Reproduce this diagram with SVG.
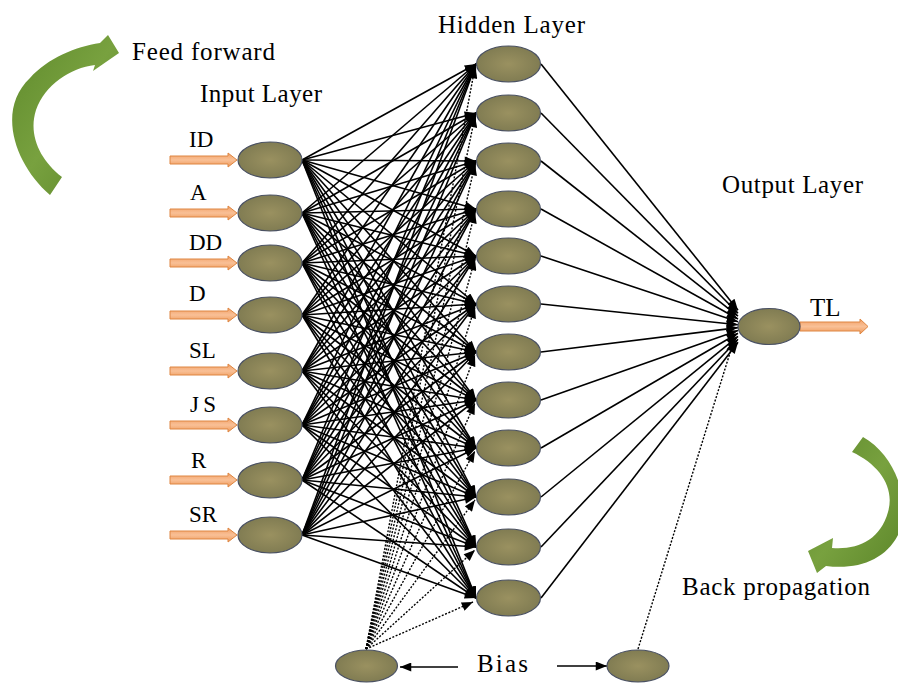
<svg xmlns="http://www.w3.org/2000/svg" width="898" height="684" viewBox="0 0 898 684">
<style>
.t{font-family:"Liberation Serif","Times New Roman",serif;fill:#000;}
.lbl{font-size:23px;}
.ttl{font-size:25px;}
.node{fill:url(#olive);stroke:#4a5163;stroke-width:1.2;}
.w line{stroke:#000;stroke-width:1.6;marker-end:url(#ah);}
.d line{stroke:#000;stroke-width:1.4;stroke-dasharray:2 1.6;marker-end:url(#ah);}
.oa{fill:url(#orange);stroke:#de8642;stroke-width:1;}
.green{fill:url(#grn);}
</style>
<defs>
<radialGradient id="olive" cx="50%" cy="50%" r="55%">
<stop offset="0" stop-color="#9a9160"/>
<stop offset="1" stop-color="#7e7a51"/>
</radialGradient>
<linearGradient id="orange" x1="0" y1="0" x2="0" y2="1">
<stop offset="0" stop-color="#f2a066"/>
<stop offset="0.5" stop-color="#f9c096"/>
<stop offset="1" stop-color="#ee9858"/>
</linearGradient>
<linearGradient id="grn" x1="0" y1="0" x2="1" y2="1">
<stop offset="0" stop-color="#5f8a2c"/>
<stop offset="0.5" stop-color="#78a13f"/>
<stop offset="1" stop-color="#5b8529"/>
</linearGradient>
<marker id="ah" viewBox="0 0 10 8" refX="10" refY="4" markerWidth="12" markerHeight="9" markerUnits="userSpaceOnUse" orient="auto">
<path d="M0,0 L10,4 L0,8 z" fill="#000"/>
</marker>
</defs>
<rect width="898" height="684" fill="#fff"/>

<g id="connectors">
<g class="w">
<line x1="302" y1="160" x2="476" y2="64"/><line x1="302" y1="160" x2="476" y2="113"/><line x1="302" y1="160" x2="476" y2="161"/><line x1="302" y1="160" x2="476" y2="209"/><line x1="302" y1="160" x2="476" y2="256"/><line x1="302" y1="160" x2="476" y2="304"/><line x1="302" y1="160" x2="476" y2="352"/><line x1="302" y1="160" x2="476" y2="400"/><line x1="302" y1="160" x2="476" y2="448"/><line x1="302" y1="160" x2="476" y2="497"/><line x1="302" y1="160" x2="476" y2="547"/><line x1="302" y1="160" x2="476" y2="598"/>
<line x1="302" y1="213" x2="476" y2="64"/><line x1="302" y1="213" x2="476" y2="113"/><line x1="302" y1="213" x2="476" y2="161"/><line x1="302" y1="213" x2="476" y2="209"/><line x1="302" y1="213" x2="476" y2="256"/><line x1="302" y1="213" x2="476" y2="304"/><line x1="302" y1="213" x2="476" y2="352"/><line x1="302" y1="213" x2="476" y2="400"/><line x1="302" y1="213" x2="476" y2="448"/><line x1="302" y1="213" x2="476" y2="497"/><line x1="302" y1="213" x2="476" y2="547"/><line x1="302" y1="213" x2="476" y2="598"/>
<line x1="302" y1="263" x2="476" y2="64"/><line x1="302" y1="263" x2="476" y2="113"/><line x1="302" y1="263" x2="476" y2="161"/><line x1="302" y1="263" x2="476" y2="209"/><line x1="302" y1="263" x2="476" y2="256"/><line x1="302" y1="263" x2="476" y2="304"/><line x1="302" y1="263" x2="476" y2="352"/><line x1="302" y1="263" x2="476" y2="400"/><line x1="302" y1="263" x2="476" y2="448"/><line x1="302" y1="263" x2="476" y2="497"/><line x1="302" y1="263" x2="476" y2="547"/><line x1="302" y1="263" x2="476" y2="598"/>
<line x1="302" y1="315" x2="476" y2="64"/><line x1="302" y1="315" x2="476" y2="113"/><line x1="302" y1="315" x2="476" y2="161"/><line x1="302" y1="315" x2="476" y2="209"/><line x1="302" y1="315" x2="476" y2="256"/><line x1="302" y1="315" x2="476" y2="304"/><line x1="302" y1="315" x2="476" y2="352"/><line x1="302" y1="315" x2="476" y2="400"/><line x1="302" y1="315" x2="476" y2="448"/><line x1="302" y1="315" x2="476" y2="497"/><line x1="302" y1="315" x2="476" y2="547"/><line x1="302" y1="315" x2="476" y2="598"/>
<line x1="302" y1="371" x2="476" y2="64"/><line x1="302" y1="371" x2="476" y2="113"/><line x1="302" y1="371" x2="476" y2="161"/><line x1="302" y1="371" x2="476" y2="209"/><line x1="302" y1="371" x2="476" y2="256"/><line x1="302" y1="371" x2="476" y2="304"/><line x1="302" y1="371" x2="476" y2="352"/><line x1="302" y1="371" x2="476" y2="400"/><line x1="302" y1="371" x2="476" y2="448"/><line x1="302" y1="371" x2="476" y2="497"/><line x1="302" y1="371" x2="476" y2="547"/><line x1="302" y1="371" x2="476" y2="598"/>
<line x1="302" y1="425" x2="476" y2="64"/><line x1="302" y1="425" x2="476" y2="113"/><line x1="302" y1="425" x2="476" y2="161"/><line x1="302" y1="425" x2="476" y2="209"/><line x1="302" y1="425" x2="476" y2="256"/><line x1="302" y1="425" x2="476" y2="304"/><line x1="302" y1="425" x2="476" y2="352"/><line x1="302" y1="425" x2="476" y2="400"/><line x1="302" y1="425" x2="476" y2="448"/><line x1="302" y1="425" x2="476" y2="497"/><line x1="302" y1="425" x2="476" y2="547"/><line x1="302" y1="425" x2="476" y2="598"/>
<line x1="302" y1="480" x2="476" y2="64"/><line x1="302" y1="480" x2="476" y2="113"/><line x1="302" y1="480" x2="476" y2="161"/><line x1="302" y1="480" x2="476" y2="209"/><line x1="302" y1="480" x2="476" y2="256"/><line x1="302" y1="480" x2="476" y2="304"/><line x1="302" y1="480" x2="476" y2="352"/><line x1="302" y1="480" x2="476" y2="400"/><line x1="302" y1="480" x2="476" y2="448"/><line x1="302" y1="480" x2="476" y2="497"/><line x1="302" y1="480" x2="476" y2="547"/><line x1="302" y1="480" x2="476" y2="598"/>
<line x1="302" y1="535" x2="476" y2="64"/><line x1="302" y1="535" x2="476" y2="113"/><line x1="302" y1="535" x2="476" y2="161"/><line x1="302" y1="535" x2="476" y2="209"/><line x1="302" y1="535" x2="476" y2="256"/><line x1="302" y1="535" x2="476" y2="304"/><line x1="302" y1="535" x2="476" y2="352"/><line x1="302" y1="535" x2="476" y2="400"/><line x1="302" y1="535" x2="476" y2="448"/><line x1="302" y1="535" x2="476" y2="497"/><line x1="302" y1="535" x2="476" y2="547"/><line x1="302" y1="535" x2="476" y2="598"/>
</g>
<g class="w">
<line x1="541" y1="64" x2="738" y2="310.3"/><line x1="541" y1="113" x2="738" y2="313.2"/><line x1="541" y1="161" x2="738" y2="316.1"/><line x1="541" y1="209" x2="738" y2="319"/><line x1="541" y1="256" x2="738" y2="321.8"/><line x1="541" y1="304" x2="738" y2="324.7"/><line x1="541" y1="352" x2="738" y2="327.6"/><line x1="541" y1="400" x2="738" y2="330.4"/><line x1="541" y1="448" x2="738" y2="333.3"/><line x1="541" y1="497" x2="738" y2="336.3"/><line x1="541" y1="547" x2="738" y2="339.3"/><line x1="541" y1="598" x2="738" y2="342.3"/>
</g>
<g class="d">
<line x1="366" y1="649" x2="475" y2="67"/><line x1="366" y1="649" x2="475" y2="116"/><line x1="366" y1="649" x2="475" y2="164"/><line x1="366" y1="649" x2="475" y2="212"/><line x1="366" y1="649" x2="475" y2="259"/><line x1="366" y1="649" x2="475" y2="307"/><line x1="366" y1="649" x2="475" y2="355"/><line x1="366" y1="649" x2="475" y2="403"/><line x1="366" y1="649" x2="475" y2="451"/><line x1="366" y1="649" x2="475" y2="500"/><line x1="366" y1="649" x2="475" y2="550"/><line x1="366" y1="649" x2="473" y2="602"/>
<line x1="638" y1="649" x2="734" y2="340"/>
</g>
<g class="w">
<line x1="458" y1="667" x2="400" y2="667"/>
<line x1="557" y1="666" x2="607" y2="666"/>
</g>
</g>

<g id="input-layer">
<g id="in-ID"><path class="oa" d="M170,156 H228 V153 L237,160 L228,167 V164 H170 Z"/><ellipse class="node" cx="270" cy="160" rx="32" ry="18"/><text class="t lbl" x="189" y="147">ID</text></g>
<g id="in-A"><path class="oa" d="M170,209 H228 V206 L237,213 L228,220 V217 H170 Z"/><ellipse class="node" cx="270" cy="213" rx="32" ry="18"/><text class="t lbl" x="190" y="200">A</text></g>
<g id="in-DD"><path class="oa" d="M170,259 H228 V256 L237,263 L228,270 V267 H170 Z"/><ellipse class="node" cx="270" cy="263" rx="32" ry="18"/><text class="t lbl" x="189" y="250">DD</text></g>
<g id="in-D"><path class="oa" d="M170,311 H228 V308 L237,315 L228,322 V319 H170 Z"/><ellipse class="node" cx="270" cy="315" rx="32" ry="18"/><text class="t lbl" x="189" y="301">D</text></g>
<g id="in-SL"><path class="oa" d="M170,367 H228 V364 L237,371 L228,378 V375 H170 Z"/><ellipse class="node" cx="270" cy="371" rx="32" ry="18"/><text class="t lbl" x="189" y="358">SL</text></g>
<g id="in-JS"><path class="oa" d="M170,421 H228 V418 L237,425 L228,432 V429 H170 Z"/><ellipse class="node" cx="270" cy="425" rx="32" ry="18"/><text class="t lbl" x="190" y="412" textLength="26">JS</text></g>
<g id="in-R"><path class="oa" d="M170,476 H228 V473 L237,480 L228,487 V484 H170 Z"/><ellipse class="node" cx="270" cy="480" rx="32" ry="18"/><text class="t lbl" x="191" y="468">R</text></g>
<g id="in-SR"><path class="oa" d="M170,531 H228 V528 L237,535 L228,542 V539 H170 Z"/><ellipse class="node" cx="270" cy="535" rx="32" ry="18"/><text class="t lbl" x="189" y="522">SR</text></g>
</g>

<g id="hidden-layer">
<g id="h1"><ellipse class="node" cx="508.5" cy="64" rx="32" ry="18"/></g>
<g id="h2"><ellipse class="node" cx="508.5" cy="113" rx="32" ry="18"/></g>
<g id="h3"><ellipse class="node" cx="508.5" cy="161" rx="32" ry="18"/></g>
<g id="h4"><ellipse class="node" cx="508.5" cy="209" rx="32" ry="18"/></g>
<g id="h5"><ellipse class="node" cx="508.5" cy="256" rx="32" ry="18"/></g>
<g id="h6"><ellipse class="node" cx="508.5" cy="304" rx="32" ry="18"/></g>
<g id="h7"><ellipse class="node" cx="508.5" cy="352" rx="32" ry="18"/></g>
<g id="h8"><ellipse class="node" cx="508.5" cy="400" rx="32" ry="18"/></g>
<g id="h9"><ellipse class="node" cx="508.5" cy="448" rx="32" ry="18"/></g>
<g id="h10"><ellipse class="node" cx="508.5" cy="497" rx="32" ry="18"/></g>
<g id="h11"><ellipse class="node" cx="508.5" cy="547" rx="32" ry="18"/></g>
<g id="h12"><ellipse class="node" cx="508.5" cy="598" rx="32" ry="18"/></g>
</g>

<g id="output-TL">
<path class="oa" d="M800,322 H860 V319 L868,326.5 L860,334 V331 H800 Z"/>
<ellipse class="node" cx="769" cy="326.5" rx="31" ry="18"/>
<text class="t ttl" x="810" y="316">TL</text>
</g>

<g id="bias-left"><ellipse class="node" cx="366.5" cy="666" rx="31" ry="16"/></g>
<g id="bias-right"><ellipse class="node" cx="638" cy="666" rx="31" ry="16"/></g>

<g id="feed-forward">
<path class="green" d="M50,195 C15,165 -4,110 30,78 C48,58 75,47 100,43 L108,35 L119,53 L93,71 L95,65 C70,68 45,85 36,110 C28,135 40,160 62,177 Z"/>
<text class="t ttl" x="132" y="60" textLength="143">Feed forward</text>
</g>

<g id="back-propagation">
<path class="green" d="M852,452 L863,437 C895,455 912,500 898,535 C885,560 858,570 826,566 L817,573 L808,551 L833,538 L832,548 C858,550 880,540 888,512 C895,488 880,465 852,452 Z"/>
<text class="t ttl" x="682" y="595" textLength="188">Back propagation</text>
</g>

<g id="titles">
<text class="t ttl" x="200" y="102" textLength="122">Input Layer</text>
<text class="t ttl" x="438" y="33" textLength="147">Hidden Layer</text>
<text class="t ttl" x="722" y="193" textLength="141">Output Layer</text>
<text class="t ttl" x="477" y="672" textLength="51">Bias</text>
</g>
</svg>
